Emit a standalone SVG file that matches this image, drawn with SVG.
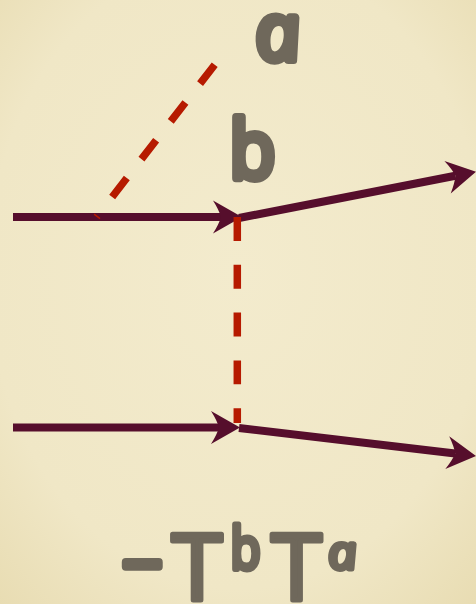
<svg xmlns="http://www.w3.org/2000/svg" width="476" height="604" viewBox="0 0 476 604">
<defs>
<radialGradient id="bg" cx="50%" cy="45%" r="75%">
<stop offset="0" stop-color="#f3ebcd"/>
<stop offset="0.7" stop-color="#f0e7c6"/>
<stop offset="1" stop-color="#e8dcb2"/>
</radialGradient>
<marker id="ah" markerUnits="userSpaceOnUse" viewBox="0 -17 30 34" markerWidth="30" markerHeight="34" refX="8" refY="0" orient="auto" overflow="visible">
<path d="M29 0 L0 -16.5 Q6 -7 8 0 Q6 7 0 16.5 Z" fill="#560e2c"/>
</marker>
</defs>
<style>
.ln{fill:none;stroke:#560e2c;stroke-width:8;marker-end:url(#ah)}
.ds{fill:none;stroke:#b61a00;stroke-width:7.5;stroke-dasharray:23.9 23.9}
.t{font-family:"Open Sans","DejaVu Sans",sans-serif;font-weight:400;fill:#6f685b;stroke:#6f685b;stroke-width:8;stroke-linejoin:round;stroke-linecap:round;text-anchor:middle}
.m{stroke-width:5}
.s{stroke-width:6}
.i{font-style:italic}
</style>
<rect width="476" height="604" fill="url(#bg)"/>
<g id="connectors">
<path class="ln" d="M13 217 L221 217"/>
<path class="ln" d="M13 427.5 L219 427.5"/>
<path class="ln" d="M239 218 L455.4 175.7"/>
<path class="ln" d="M239 428 L455.2 453.5"/>
<path class="ds" d="M237.3 217 L237.3 423"/>
<path class="ds" style="stroke-dashoffset:22.4" d="M96.6 217 L214.9 64.5"/>
</g>
<g id="label-a"><text class="t i" font-size="80" transform="translate(281,60) skewX(9)">a</text></g>
<g id="label-b"><text class="t" font-size="80" transform="translate(252.5,178) scale(0.94,1)">b</text></g>
<g id="formula">
<text class="t" font-size="70" transform="translate(142.5,589)">−</text>
<text class="t m" font-size="92" transform="translate(197,599.5)">T</text>
<text class="t s" font-size="58" transform="translate(245.5,569) scale(0.85,1)">b</text>
<text class="t m" font-size="92" transform="translate(296.5,599.5)">T</text>
<text class="t m i" font-size="47" transform="translate(344,569) skewX(8) scale(1.08,1)">a</text>
</g>
</svg>
